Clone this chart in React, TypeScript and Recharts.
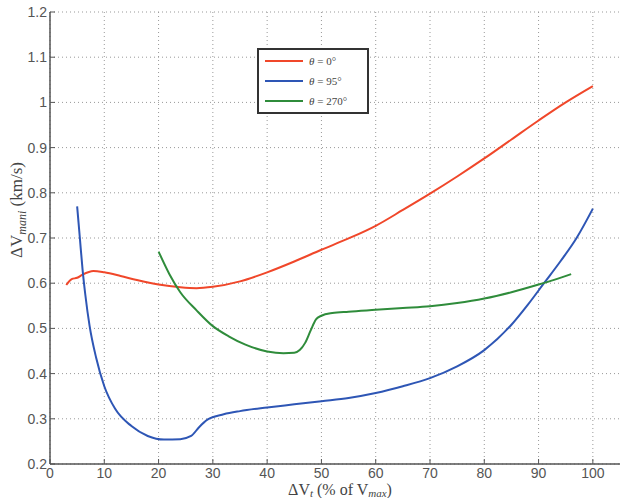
import React from "react";
import {
  LineChart,
  Line,
  XAxis,
  YAxis,
  CartesianGrid,
} from "recharts";

// theta = 0 deg
const xRed = [3, 4, 5, 6, 8, 10, 13, 16, 20, 24, 27, 30, 35, 40, 45, 50, 55, 60, 65, 70, 75, 80, 85, 90, 95, 100];
const yRed = [0.596, 0.609, 0.612, 0.619, 0.627, 0.624, 0.616, 0.607, 0.597, 0.591, 0.589, 0.592, 0.604, 0.624, 0.648, 0.674, 0.699, 0.727, 0.762, 0.798, 0.836, 0.876, 0.918, 0.96, 1.0, 1.036];

// theta = 95 deg
const xBlue = [5, 5.5, 6, 6.5, 7.3, 8.5, 10, 12, 15, 18, 21, 24, 26, 27.5, 29, 32, 35, 40, 45, 50, 55, 60, 65, 70, 75, 80, 85, 88, 91, 94, 97, 100];
const yBlue = [0.77, 0.7, 0.63, 0.575, 0.505, 0.435, 0.372, 0.322, 0.284, 0.262, 0.254, 0.255, 0.262, 0.282, 0.298, 0.31, 0.317, 0.325, 0.332, 0.339, 0.346, 0.357, 0.372, 0.39, 0.416, 0.452, 0.508, 0.552, 0.6, 0.648, 0.7, 0.765];

// theta = 270 deg
const xGreen = [20, 22, 24, 27, 30, 33, 36, 40, 43, 45, 46, 47, 48, 49, 50, 52, 55, 60, 65, 70, 75, 80, 85, 90, 93, 96];
const yGreen = [0.67, 0.62, 0.58, 0.54, 0.505, 0.482, 0.464, 0.449, 0.445, 0.446, 0.452, 0.468, 0.495, 0.52, 0.528, 0.534, 0.537, 0.541, 0.545, 0.549, 0.556, 0.566, 0.58, 0.597, 0.608, 0.62];

const xTicks = [0, 10, 20, 30, 40, 50, 60, 70, 80, 90, 100];
const yTicks = [0.2, 0.3, 0.4, 0.5, 0.6, 0.7, 0.8, 0.9, 1, 1.1, 1.2];

const series = [
  { name: "0°", color: "#f0472a", xs: xRed, ys: yRed },
  { name: "95°", color: "#2e56b5", xs: xBlue, ys: yBlue },
  { name: "270°", color: "#2f8c3b", xs: xGreen, ys: yGreen },
];

const toPoints = (xs: number[], ys: number[]) => xs.map((x, i) => ({ x, y: ys[i] }));

const axisColor = "#555";
const serif = "'Liberation Serif', 'DejaVu Serif', serif";
const sans = "Arial, 'Liberation Sans', sans-serif";

const XTick = (props: any) => {
  const { x, y, payload } = props;
  return (
    <g>
      <line x1={x} y1={y} x2={x} y2={y - 5} stroke={axisColor} />
      <text x={x} y={y + 14} textAnchor="middle" fill="#555" fontSize={14} fontFamily={sans}>
        {payload.value}
      </text>
    </g>
  );
};

const YTick = (props: any) => {
  const { x, y, payload } = props;
  return (
    <g>
      <line x1={x} y1={y} x2={x + 5} y2={y} stroke={axisColor} />
      <text x={x - 3} y={y + 5} textAnchor="end" fill="#555" fontSize={14} fontFamily={sans}>
        {payload.value}
      </text>
    </g>
  );
};

// legend is drawn on top of the chart, outside Recharts layout
const LegendBox = () => (
  <div
    style={{
      position: "absolute",
      left: 257,
      top: 48,
      border: "2px solid #333",
      background: "#fff",
      padding: "1px 6px",
      width: 96,
      fontFamily: serif,
      fontSize: 11,
      color: "#444",
    }}
  >
    {series.map((s) => (
      <div key={s.name} style={{ display: "flex", alignItems: "center", height: 20 }}>
        <svg width={38} height={6}>
          <line x1={0} y1={3} x2={38} y2={3} stroke={s.color} strokeWidth={2} />
        </svg>
        <span style={{ marginLeft: 6 }}>
          <i>θ</i> = {s.name}
        </span>
      </div>
    ))}
  </div>
);

export default function App() {
  return (
    <div style={{ position: "absolute", left: 0, top: 0, width: 629, height: 498, background: "#fff" }}>
      <LineChart width={629} height={498} margin={{ top: 12, right: 9, left: 0, bottom: 0 }}>
        <CartesianGrid stroke="#999" strokeDasharray="1 3" horizontalValues={yTicks} verticalValues={xTicks} />
        <XAxis
          type="number"
          dataKey="x"
          domain={[0, 105]}
          ticks={xTicks}
          height={34}
          tickSize={0}
          tickMargin={0}
          tick={<XTick />}
          stroke={axisColor}
          strokeWidth={1.5}
          allowDataOverflow
        />
        <YAxis
          type="number"
          dataKey="y"
          domain={[0.2, 1.2]}
          ticks={yTicks}
          width={50}
          tickSize={0}
          tickMargin={0}
          tick={<YTick />}
          stroke={axisColor}
          strokeWidth={1.5}
          allowDataOverflow
        />
        {series.map((s) => (
          <Line
            key={s.name}
            data={toPoints(s.xs, s.ys)}
            dataKey="y"
            name={s.name}
            type="monotone"
            stroke={s.color}
            strokeWidth={2}
            dot={false}
            isAnimationActive={false}
          />
        ))}
        <text
          transform="translate(22, 210) rotate(-90)"
          textAnchor="middle"
          fontFamily={serif}
          fontSize={17}
          fill="#444"
        >
          ΔV<tspan fontStyle="italic" fontSize={12} dy={4}>mani</tspan>
          <tspan dy={-4}> (km/s)</tspan>
        </text>
        <text x={340} y={495} textAnchor="middle" fontFamily={serif} fontSize={16} fill="#444">
          ΔV<tspan fontStyle="italic" fontSize={11} dy={2}>t</tspan>
          <tspan dy={-2}> (% of V</tspan>
          <tspan fontStyle="italic" fontSize={11} dy={2}>max</tspan>
          <tspan dy={-2}>)</tspan>
        </text>
      </LineChart>
      <LegendBox />
    </div>
  );
}
